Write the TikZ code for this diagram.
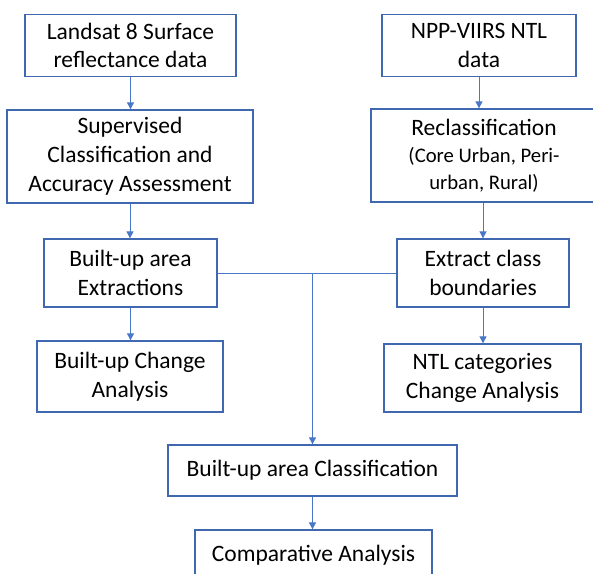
\documentclass[tikz,border=0pt]{standalone}
\usepackage{fontspec}
\setmainfont{Carlito}
\usetikzlibrary{arrows.meta,calc}
\definecolor{boxblue}{HTML}{4068B0}
\definecolor{linkblue}{HTML}{4A78C8}
\tikzset{
  box/.style={draw=boxblue, line width=1.3pt, fill=white, align=center, inner sep=0pt,
    font=\fontsize{23.5}{28.8}\selectfont, text=black},
  link/.style={draw=linkblue, line width=0.9pt},
  arr/.style={link, -{Triangle[length=7pt,width=7pt]}}
}
\begin{document}
\begin{tikzpicture}[x=1pt,y=-1pt]
\useasboundingbox (0,0) rectangle (593,573);
\clip (0,0) rectangle (593,573);
\fill[white] (0,0) rectangle (593,573);

\node[box, minimum width=211pt, minimum height=62pt] (L1) at (130.5,45.5) {Landsat 8 Surface\\reflectance data};
\node[box, minimum width=246pt, minimum height=93pt] (L2) at (130,156.5) {Supervised\\Classification and\\Accuracy Assessment};
\node[box, minimum width=173pt, minimum height=68pt] (L3) at (130.5,273) {Built-up area\\Extractions};
\node[box, minimum width=186pt, minimum height=71pt] (L4) at (130,376.5) {Built-up Change\\Analysis};

\node[box, minimum width=194pt, minimum height=62pt] (R1) at (479,45.5) {NPP-VIIRS NTL\\data};
\node[box, minimum width=226pt, minimum height=93pt] (R2) at (484,155.5) {Reclassification\\[-1.5pt]{\fontsize{20.7}{27}\selectfont (Core Urban, Peri-}\\[-2pt]{\fontsize{20.7}{27}\selectfont urban, Rural)}};
\node[box, minimum width=172pt, minimum height=68pt] (R3) at (483,273) {Extract class\\boundaries};
\node[box, minimum width=197pt, minimum height=68pt] (R4) at (482.5,378) {NTL categories\\Change Analysis};

\node[box, minimum width=289pt, minimum height=51pt] (C1) at (312.5,470.5) {Built-up area Classification};
\node[box, minimum width=237pt, minimum height=51pt] (C2) at (313.5,555.5) {Comparative Analysis};

\draw[arr] (L1.south) -- (L1.south |- L2.north);
\draw[arr] (L2.south) -- (L2.south |- L3.north);
\draw[arr] (L3.south) -- (L3.south |- L4.north);

\draw[arr] (R1.south) -- (R1.south |- R2.north);
\draw[arr] (R3.north |- R2.south) -- (R3.north);
\draw[arr] (R3.south) -- (R3.south |- R4.north);

\draw[link] (L3.east) -- (R3.west);
\coordinate (J) at (C1.north |- L3.east);
\draw[arr] (J) -- (C1.north);
\draw[arr] (C1.south) -- (C1.south |- C2.north);
\end{tikzpicture}
\end{document}
